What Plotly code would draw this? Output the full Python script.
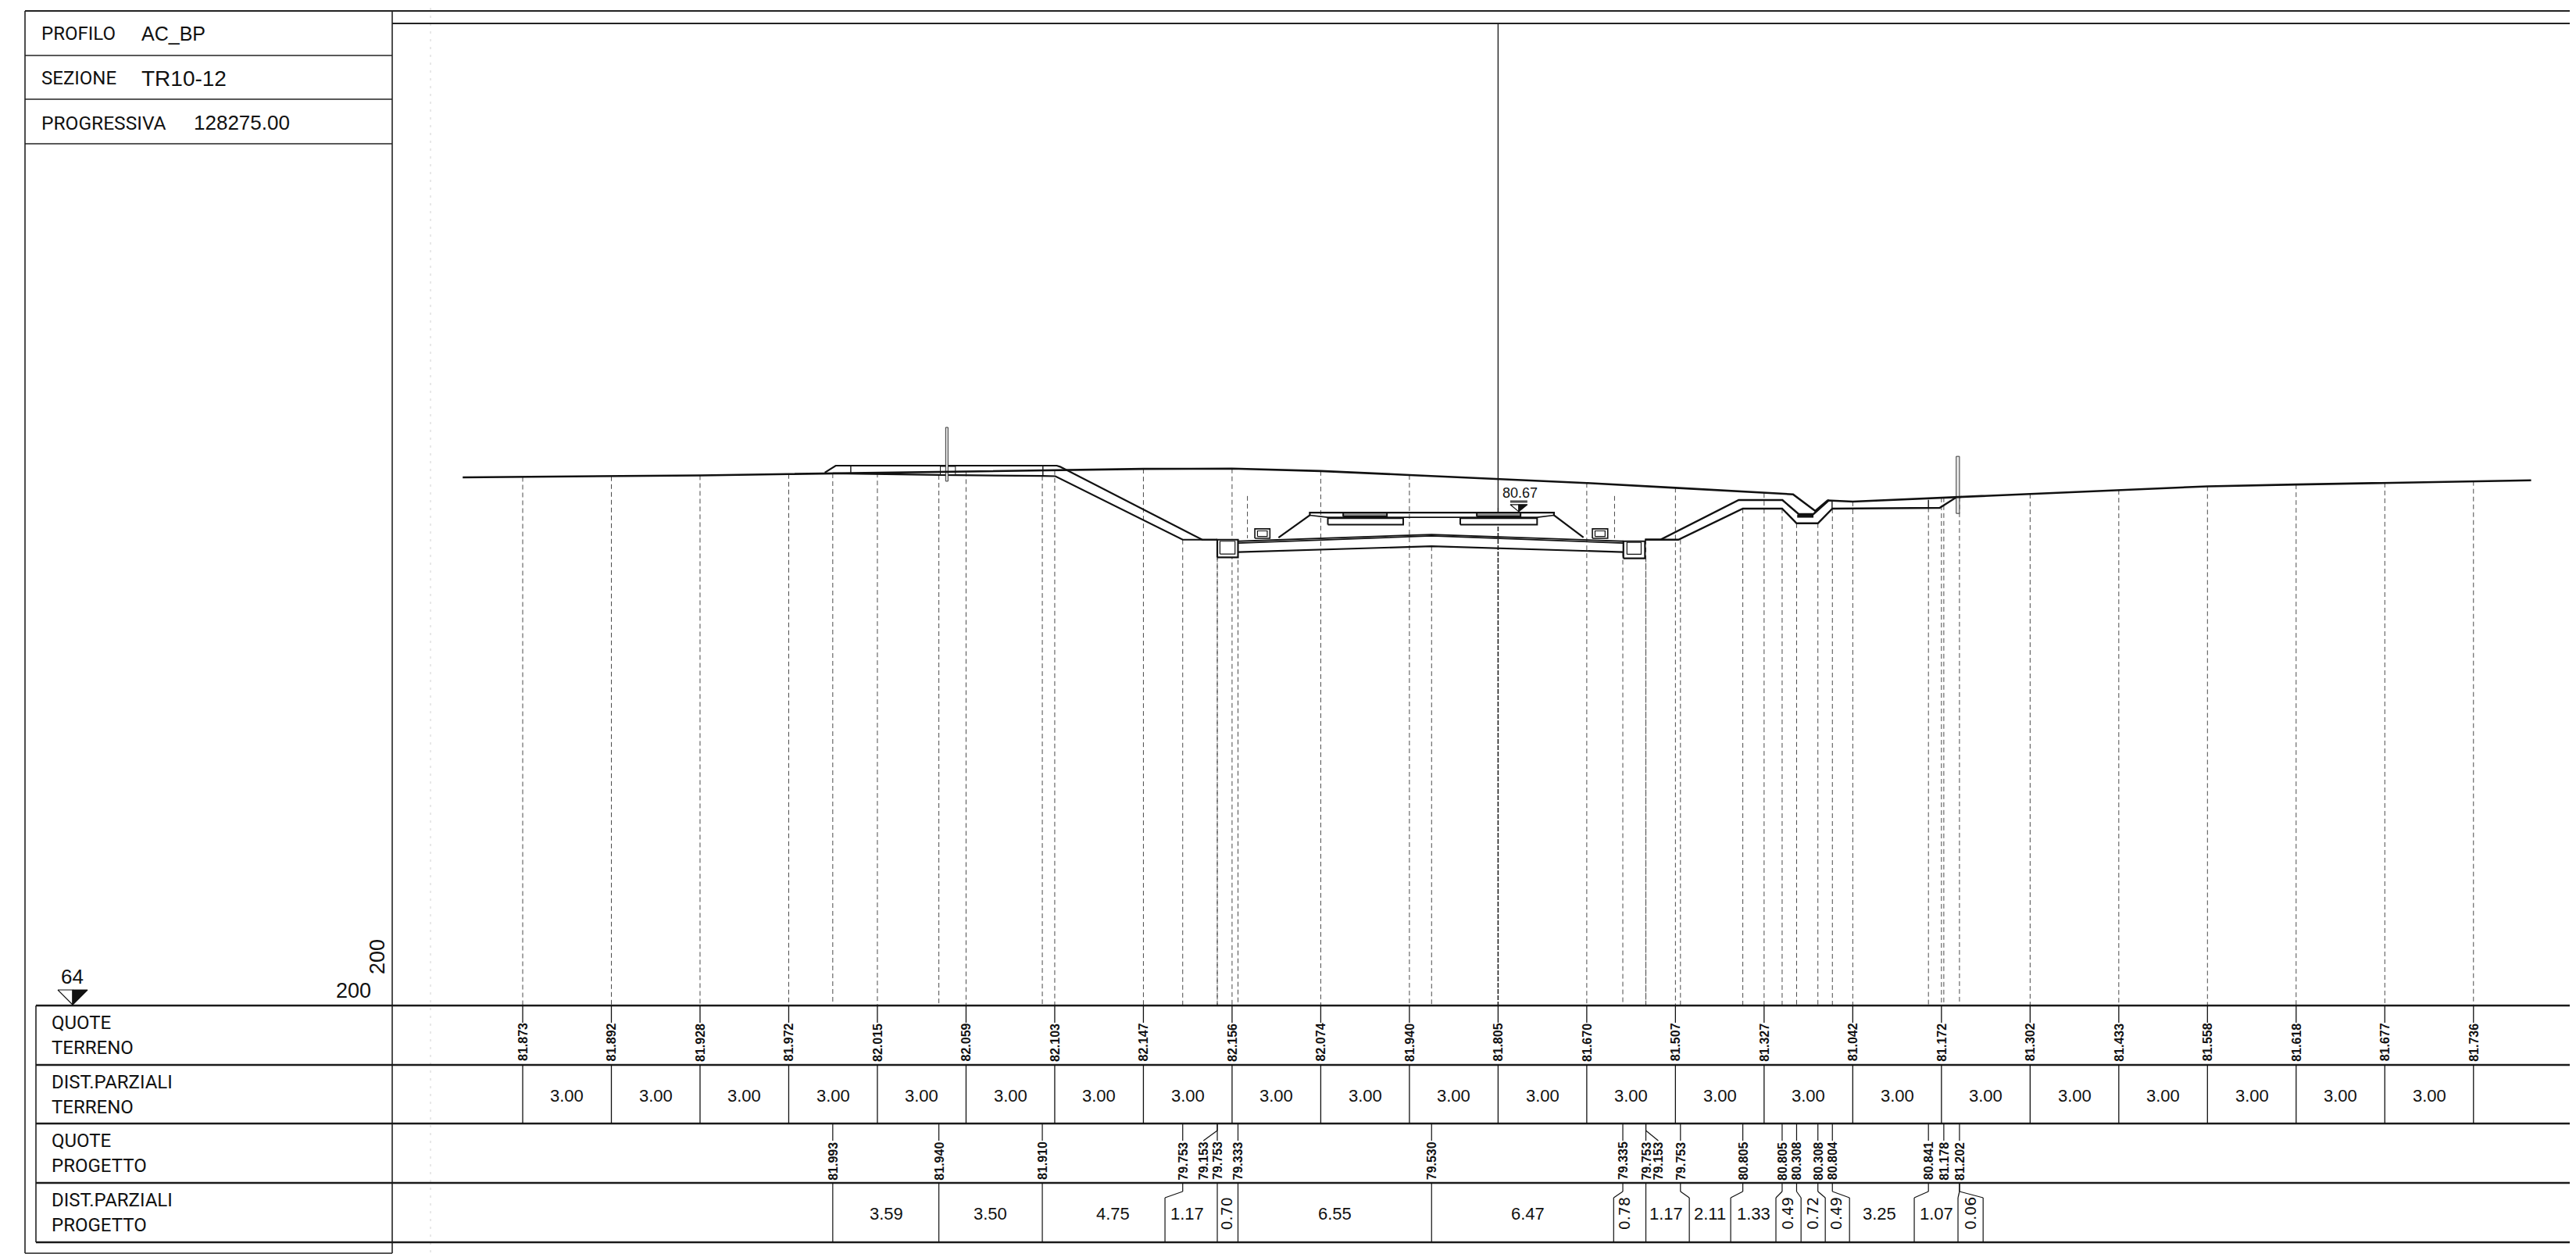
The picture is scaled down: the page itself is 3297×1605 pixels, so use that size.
import plotly.graph_objects as go

# ---------- data (stations in metres, elevations in metres) ----------
terrain_stations = [0, 3, 6, 9, 12, 15, 18, 21, 24, 27, 30, 33, 36, 39, 42, 45, 48, 51, 54, 57, 60, 63, 66]
terrain_quotes = [81.873, 81.892, 81.928, 81.972, 82.015, 82.059, 82.103, 82.147, 82.156, 82.074, 81.940, 81.805,
                  81.670, 81.507, 81.327, 81.042, 81.172, 81.302, 81.433, 81.558, 81.618, 81.677, 81.736]
terrain_quote_labels = ["81.873", "81.892", "81.928", "81.972", "82.015", "82.059", "82.103", "82.147", "82.156",
                        "82.074", "81.940", "81.805", "81.670", "81.507", "81.327", "81.042", "81.172", "81.302",
                        "81.433", "81.558", "81.618", "81.677", "81.736"]
terrain_dist_labels = ["3.00"] * 22

# terrain line including both ends and the existing ditch
ground_x = [-2.03, 0, 3, 6, 9, 12, 15, 18, 21, 24, 27, 30, 33, 36, 39, 42, 42.98, 43.73, 44.15, 45, 48, 51, 54, 57, 60, 63, 66, 67.95]
ground_z = [81.86, 81.873, 81.892, 81.928, 81.972, 82.015, 82.059, 82.103, 82.147, 82.156, 82.074, 81.940, 81.805,
            81.670, 81.507, 81.327, 81.287, 80.725, 81.08, 81.042, 81.172, 81.302, 81.433, 81.558, 81.618, 81.677, 81.736, 81.76]

project_x = [10.49, 14.08, 17.58, 22.33, 23.50, 23.50, 24.20, 30.75, 37.22, 38.00, 38.00, 39.17, 41.28, 42.61, 43.10,
             43.82, 44.31, 47.56, 48.08, 48.61]
project_label_x = [10.49, 14.08, 17.58, 22.33, 23.03, 23.50, 24.20, 30.75, 37.22, 38.00, 38.42, 39.17, 41.28, 42.61,
                   43.10, 43.82, 44.31, 47.56, 48.08, 48.61]
project_quotes = [81.993, 81.940, 81.910, 79.753, 79.153, 79.753, 79.333, 79.530, 79.335, 79.753, 79.153, 79.753,
                  80.805, 80.805, 80.308, 80.308, 80.804, 80.841, 81.178, 81.202]
project_quote_labels = ["81.993", "81.940", "81.910", "79.753", "79.153", "79.753", "79.333", "79.530", "79.335",
                        "79.753", "79.153", "79.753", "80.805", "80.805", "80.308", "80.308", "80.804", "80.841",
                        "81.178", "81.202"]

dist_top_x = [10.49, 14.08, 17.58, 22.33, 23.50, 24.20, 30.75, 37.22, 38.00, 39.17, 41.28, 42.61, 43.10, 43.82, 44.31, 47.56, 48.61, 48.61]
dist_bottom_x = [10.49, 14.08, 17.58, 21.73, 23.50, 24.20, 30.75, 36.91, 38.00, 39.47, 40.87, 42.40, 43.25, 44.07, 44.89, 47.08, 48.56, 49.41]
project_dist_labels = ["3.59", "3.50", "4.75", "1.17", "0.70", "6.55", "6.47", "0.78", "1.17", "2.11", "1.33", "0.49", "0.72", "0.49", "3.25", "1.07", "0.06"]
project_dist_x = [12.31, 15.83, 19.97, 22.47, 23.83, 27.49, 34.00, 37.28, 38.68, 40.16, 41.65, 42.80, 43.64, 44.44, 45.89, 47.82, 48.98]
project_dist_vertical = [False, False, False, False, True, False, False, True, False, False, False, True, True, True, False, False, True]

# earthwork outlines
embankment_x = [10.22, 10.59, 18.07, 18.18, 22.99, 23.50]
embankment_z = [82.02, 82.256, 82.256, 82.22, 79.753, 79.753]
formation_left_x = [10.49, 14.08, 17.58, 18.02, 22.33, 23.50]
formation_left_z = [81.993, 81.940, 81.910, 81.90, 79.753, 79.753]
cut_upper_x = [37.97, 38.49, 41.14, 42.62, 43.17, 43.67, 44.20]
cut_upper_z = [79.753, 79.753, 81.094, 81.094, 80.618, 80.618, 81.094]
cut_lower_x = [37.97, 39.10, 41.28, 42.61, 43.10, 43.82, 44.31, 47.56, 47.94, 48.49, 48.69]
cut_lower_z = [79.753, 79.753, 80.805, 80.805, 80.308, 80.308, 80.804, 80.841, 80.83, 81.178, 81.202]
ditch_band_x = [43.12, 43.67]
ditch_band_z = [80.55, 80.55]
subgrade1_x = [24.20, 30.75, 37.24]
subgrade1_z = [79.70, 79.93, 79.70]
subgrade2_x = [24.20, 30.75, 37.24]
subgrade2_z = [79.64, 79.88, 79.64]
subgrade3_x = [24.20, 30.75, 37.24]
subgrade3_z = [79.333, 79.530, 79.335]
ballast_x = [25.57, 26.63, 26.63, 34.89, 34.89, 35.89]
ballast_z = [79.82, 80.58, 80.67, 80.67, 80.58, 79.83]
ballast_under_x = [26.63, 27.24, 34.32, 34.89]
ballast_under_z = [80.58, 80.51, 80.51, 80.58]

# rectangles: x0, x1, z0, z1
slabs = [(27.24, 29.79, 80.26, 80.48), (31.72, 34.32, 80.26, 80.48)]
rails = [(27.76, 29.24, 80.54, 80.67), (32.28, 33.76, 80.54, 80.67)]
ducts = [(24.77, 25.28, 79.80, 80.12), (36.19, 36.71, 79.80, 80.12)]
ducts_inner = [(24.86, 25.19, 79.86, 80.05), (36.28, 36.62, 79.86, 80.05)]
ditches_outer = [(23.50, 24.20, 79.153, 79.753), (37.24, 37.97, 79.12, 79.70)]
ditches_inner = [(23.59, 24.10, 79.27, 79.70), (37.36, 37.84, 79.26, 79.66)]
fence_posts = [(14.31, 14.39, 81.73, 83.55), (48.50, 48.61, 80.64, 82.57)]
fence_bases = [(14.13, 14.64, 81.95, 82.23)]
ticks_x = [11.10, 17.60, 44.30, 47.56]
ticks_z0 = [81.97, 81.91, 80.80, 80.84]
ticks_z1 = [82.256, 82.256, 81.09, 81.10]
short_dash_x = [24.52, 36.94]
short_dash_z = [81.23, 81.23]
solid_top_station = 33
platform_level = 80.67

row_names = [("QUOTE", "TERRENO"), ("DIST.PARZIALI", "TERRENO"), ("QUOTE", "PROGETTO"), ("DIST.PARZIALI", "PROGETTO")]

# ---------- page mapping ----------
W, H = 3297, 1605
PXM_X, PXM_Y = 37.83, 37.85
X0, Y0 = 669.0, 1287.0
PAGE_INSET = 8  # the page body's own margin
def mx(px): return (px - X0) / PXM_X
def mz(py): return 64 + (Y0 - py) / PXM_Y

BLACK = "#111111"
SANS = "Liberation Sans, Arial, sans-serif"
HEAD = "Roboto, Liberation Sans, Arial, sans-serif"
WIDE = "DejaVu Sans, Verdana, sans-serif"
ROWS = [1287, 1363, 1438, 1514, 1590]

fig = go.Figure()

def line(xs, zs, w=2.0, color=BLACK, dash=None):
    fig.add_trace(go.Scatter(x=xs, y=zs, mode="lines", hoverinfo="skip", showlegend=False,
                             line=dict(color=color, width=w, dash=dash or "solid")))

def segs(pairs, w=1.5, color=BLACK, dash=None):
    xs, zs = [], []
    for (x0, z0, x1, z1) in pairs:
        xs += [x0, x1, None]
        zs += [z0, z1, None]
    line(xs, zs, w, color, dash)

def rect(r, w=1.6, fill="white", color=BLACK):
    x0, x1, z0, z1 = r
    fig.add_trace(go.Scatter(x=[x0, x1, x1, x0, x0], y=[z0, z0, z1, z1, z0], mode="lines", fill="toself",
                             fillcolor=fill, hoverinfo="skip", showlegend=False, line=dict(color=color, width=w)))

def poly(xs, zs, fill, w=1.2):
    fig.add_trace(go.Scatter(x=xs, y=zs, mode="lines", fill="toself", fillcolor=fill, hoverinfo="skip",
                             showlegend=False, line=dict(color=BLACK, width=w)))

# faint construction line
segs([(mx(551), mz(0), mx(551), mz(1605))], 1, "#d2d2d2", "3px,7px")

# dashed drop lines
DASH = "6px,4px"
DASH_COLOR = "#4a4a4a"
segs([(x, z, x, 64) for x, z in zip(terrain_stations, terrain_quotes) if x != solid_top_station], 1, DASH_COLOR, DASH)
segs([(x, z, x, 64) for x, z in zip(project_x, project_quotes)], 1, DASH_COLOR, DASH)
segs([(x, z, x, 79.8) for x, z in zip(short_dash_x, short_dash_z)], 1, DASH_COLOR, DASH)
segs([(terrain_stations[11], mz(650), terrain_stations[11], 64)], 1.6, "#222222", "6px,2px")
segs([(terrain_stations[11], mz(30), terrain_stations[11], mz(650))], 1.4, "#222222")

# section
for x, z, w in [(embankment_x, embankment_z, 2.2), (formation_left_x, formation_left_z, 2.2),
                (cut_upper_x, cut_upper_z, 2.4), (cut_lower_x, cut_lower_z, 2.4),
                (ditch_band_x, ditch_band_z, 4), (subgrade1_x, subgrade1_z, 1.8), (subgrade2_x, subgrade2_z, 1.8),
                (subgrade3_x, subgrade3_z, 2.2), (ballast_x, ballast_z, 2.2), (ballast_under_x, ballast_under_z, 1.6)]:
    line(x, z, w)
for r in ditches_outer: rect(r, 2.2)
for r in ditches_inner: rect(r, 1.2)
for r in slabs: rect(r, 2.0)
for r in rails: rect(r, 2.0, "#8a8a8a")
for r in ducts: rect(r, 1.6)
for r in ducts_inner: rect(r, 1.2)
for r in fence_bases: rect(r, 1.0)
for r in fence_posts: rect(r, 1.0, "#ececec", "#333333")
segs([(x, a, x, b) for x, a, b in zip(ticks_x, ticks_z0, ticks_z1)], 1.4)
line(ground_x, ground_z, 2.6)

# table and frame
segs([(mx(32), mz(14), mx(W + PAGE_INSET), mz(14)), (mx(502), mz(30), mx(W + PAGE_INSET), mz(30))], 1.8, "#222222")
segs([(mx(32), mz(y), mx(502), mz(y)) for y in (71, 127, 184)], 1.6, "#222222")
segs([(mx(32), mz(14), mx(32), mz(1604)), (mx(32), mz(1604), mx(502), mz(1604)),
      (mx(502), mz(14), mx(502), mz(1604)), (mx(46), mz(1287), mx(46), mz(1590))], 1.6, "#222222")
segs([(mx(46), mz(y), mx(W + PAGE_INSET), mz(y)) for y in ROWS], 2.4, "#1a1a1a")

# table verticals
segs([(x, mz(ROWS[0]), x, mz(1309)) for x in terrain_stations], 1.3)
segs([(x, mz(ROWS[1]), x, mz(ROWS[2])) for x in terrain_stations], 1.3)
leaders = []
for sx, lx in zip(project_x, project_label_x):
    if sx == lx:
        leaders.append((lx, mz(ROWS[2]), lx, mz(1460)))
    else:
        leaders.append((sx, mz(ROWS[2]), sx, mz(1447)))
        leaders.append((sx, mz(1447), lx, mz(1460)))
segs(leaders, 1.2)
kinks = []
for t, b in zip(dist_top_x, dist_bottom_x):
    if t == b:
        kinks.append((t, mz(ROWS[3]), t, mz(ROWS[4])))
    else:
        kinks += [(t, mz(ROWS[3]), t, mz(1525)), (t, mz(1525), b, mz(1533)), (b, mz(1533), b, mz(ROWS[4]))]
segs(kinks, 1.2)

# datum and level markers
poly([mx(74), mx(93), mx(93), mx(74)], [mz(1267), mz(1267), mz(1286), mz(1267)], "white")
poly([mx(93), mx(112), mx(93), mx(93)], [mz(1267), mz(1267), mz(1286), mz(1267)], BLACK)
lvl = terrain_stations[11] + 0.7
poly([lvl - 0.29, lvl, lvl, lvl - 0.29], [platform_level + 0.27, platform_level + 0.27, platform_level + 0.03, platform_level + 0.27], "white")
poly([lvl, lvl + 0.29, lvl, lvl], [platform_level + 0.27, platform_level + 0.27, platform_level + 0.03, platform_level + 0.27], BLACK)
segs([(lvl - 0.29, platform_level + 0.36, lvl + 0.29, platform_level + 0.36)], 1.6)
segs([(lvl - 0.29, platform_level + 0.40, lvl + 0.29, platform_level + 0.40)], 1.2, "#555555")

ann = []
def text(t, x, z, size, font=SANS, angle=0, xanchor="center", yanchor="middle", weight="normal"):
    ann.append(dict(text=t, x=x, y=z, xref="x", yref="y", showarrow=False, textangle=angle, xanchor=xanchor,
                    yanchor=yanchor, borderpad=0, font=dict(family=font, size=size, color=BLACK, weight=weight)))

for x, t in zip(terrain_stations, terrain_quote_labels):
    text(t, x, mz(1334), 16, SANS, angle=-90, weight="bold")
for i, t in enumerate(terrain_dist_labels):
    text(t, (terrain_stations[i] + terrain_stations[i + 1]) / 2, mz(1402), 22)
for x, t in zip(project_label_x, project_quote_labels):
    text(t, x, mz(1486), 16, SANS, angle=-90, weight="bold")
for x, t, v in zip(project_dist_x, project_dist_labels, project_dist_vertical):
    if v:
        text(t, x, mz(1553), 19, WIDE, angle=-90)
    else:
        text(t, x, mz(1553), 22)
for i, (a, b) in enumerate(row_names):
    top = ROWS[i]
    text(a, mx(65), mz(top + 22), 24, HEAD, xanchor="left")
    text(b, mx(65), mz(top + 54), 24, HEAD, xanchor="left")
text("PROFILO", mx(52), mz(43), 24, HEAD, xanchor="left")
text("AC_BP", mx(180), mz(43), 25, SANS, xanchor="left")
text("SEZIONE", mx(52), mz(100), 24, HEAD, xanchor="left")
text("TR10-12", mx(180), mz(100), 28, SANS, xanchor="left")
text("PROGRESSIVA", mx(52), mz(157), 24.5, HEAD, xanchor="left")
text("128275.00", mx(247), mz(157), 26, SANS, xanchor="left")
text("64", mx(92), mz(1250), 26, SANS)
text("200", mx(452), mz(1268), 27)
text("200", mx(483), mz(1225), 27, angle=-90)
text("80.67", mx(1945), mz(631), 18, SANS)

fig.update_layout(
    width=W, height=H, margin=dict(l=0, r=0, t=0, b=0), paper_bgcolor="white", plot_bgcolor="white",
    showlegend=False, annotations=ann,
    xaxis=dict(range=[mx(PAGE_INSET), mx(W + PAGE_INSET)], visible=False, domain=[0, 1]),
    yaxis=dict(range=[mz(H + PAGE_INSET), mz(PAGE_INSET)], visible=False, domain=[0, 1]),
)
fig.write_html("out.html")
